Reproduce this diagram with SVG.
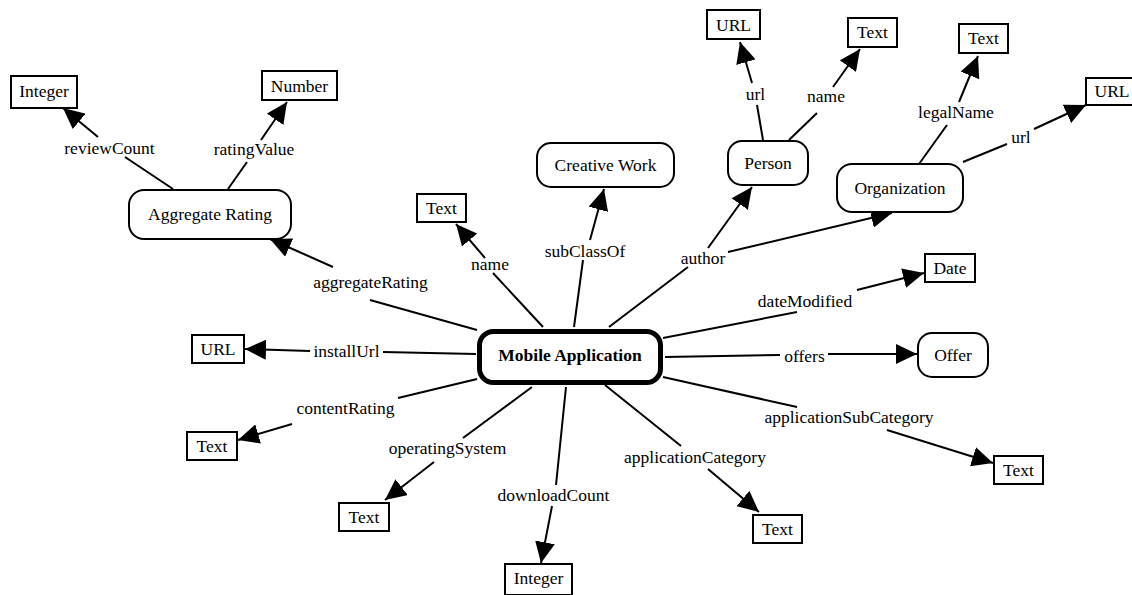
<svg xmlns="http://www.w3.org/2000/svg" width="1132" height="595" viewBox="0 0 1132 595">
<style>
.box { fill: #fff; stroke: #000; stroke-width: 2; }
.cls { fill: #fff; stroke: #000; stroke-width: 2; }
.main { fill: #fff; stroke: #000; stroke-width: 5; }
.e { fill: none; stroke: #000; stroke-width: 2; }
.a { marker-end: url(#ah); }
</style>
<defs>
<marker id="ah" markerUnits="userSpaceOnUse" viewBox="0 0 21 20" refX="21" refY="10" markerWidth="21" markerHeight="20" orient="auto">
<path d="M0,0 L21,10 L0,20 z" fill="#000"/>
</marker>
</defs>
<rect width="1132" height="595" fill="#fff"/>
<g id="connectors" text-anchor="middle">
<path class="e a" d="M173,189 L125,157 M98,137 L63,108"/>
<path class="e a" d="M228,189 L247,162 M261,140 L287,102"/>
<path class="e a" d="M477,330 L370,300 M333,267 L270,239"/>
<path class="e a" d="M543,327 L493,273 M485,258 L456,224"/>
<path class="e a" d="M574,327 L583,260 M590,240 L604,189"/>
<path class="e a" d="M609,327 L688,267 M708,248 L752,187"/>
<path class="e a" d="M728,252 L892,213"/>
<path class="e a" d="M763,140 L757,105 M752,83 L740,42"/>
<path class="e a" d="M789,140 L817,113 M833,87 L860,49"/>
<path class="e a" d="M919,164 L947,125 M959,102 L978,56"/>
<path class="e a" d="M963,162 L1007,144 M1034,129 L1086,105"/>
<path class="e a" d="M663,338 L797,312 M857,290 L924,273"/>
<path class="e a" d="M665,357 L780,355 M828,354 L917,354"/>
<path class="e a" d="M663,377 L797,407 M887,430 L993,463"/>
<path class="e a" d="M605,385 L681,446 M708,469 L759,512"/>
<path class="e a" d="M566,387 L556,485 M552,506 L541,563"/>
<path class="e a" d="M532,387 L463,438 M434,462 L385,500"/>
<path class="e a" d="M477,379 L398,398 M292,424 L238,440"/>
<path class="e a" d="M476,354 L383,352 M310,351 L245,349"/>
<text font-family="Liberation Serif" font-size="17.5" x="109.5" y="154">reviewCount</text>
<text font-family="Liberation Serif" font-size="17.5" x="254" y="155">ratingValue</text>
<text font-family="Liberation Serif" font-size="17.5" x="370.5" y="288">aggregateRating</text>
<text font-family="Liberation Serif" font-size="17.5" x="490" y="270">name</text>
<text font-family="Liberation Serif" font-size="17.5" x="585" y="257">subClassOf</text>
<text font-family="Liberation Serif" font-size="17.5" x="703" y="264">author</text>
<text font-family="Liberation Serif" font-size="17.5" x="755.5" y="100">url</text>
<text font-family="Liberation Serif" font-size="17.5" x="826" y="102">name</text>
<text font-family="Liberation Serif" font-size="17.5" x="956" y="118">legalName</text>
<text font-family="Liberation Serif" font-size="17.5" x="1021" y="143">url</text>
<text font-family="Liberation Serif" font-size="17.5" x="805" y="307">dateModified</text>
<text font-family="Liberation Serif" font-size="17.5" x="804.5" y="362">offers</text>
<text font-family="Liberation Serif" font-size="17.5" x="849" y="423">applicationSubCategory</text>
<text font-family="Liberation Serif" font-size="17.5" x="695" y="463">applicationCategory</text>
<text font-family="Liberation Serif" font-size="17.5" x="553.5" y="501">downloadCount</text>
<text font-family="Liberation Serif" font-size="17.5" x="447.5" y="454">operatingSystem</text>
<text font-family="Liberation Serif" font-size="17.5" x="345.5" y="414">contentRating</text>
<text font-family="Liberation Serif" font-size="17.5" x="346.5" y="357">installUrl</text>
</g>
<g id="nodes" text-anchor="middle">
<g id="n_main"><rect class="main" x="479.5" y="331.5" width="181" height="51" rx="14"/><text font-family="Liberation Serif" font-size="17.5" font-weight="bold" x="570" y="361">Mobile Application</text></g>
<g id="n_agg"><rect class="cls" x="129" y="190" width="162" height="49" rx="15"/><text font-family="Liberation Serif" font-size="17.5" x="210" y="220">Aggregate Rating</text></g>
<g id="n_int1"><rect class="box" x="11" y="76" width="66" height="32"/><text font-family="Liberation Serif" font-size="17.5" x="44" y="97">Integer</text></g>
<g id="n_num"><rect class="box" x="262" y="71" width="75" height="29"/><text font-family="Liberation Serif" font-size="17.5" x="299.5" y="92">Number</text></g>
<g id="n_text_name"><rect class="box" x="417" y="194" width="49" height="28"/><text font-family="Liberation Serif" font-size="17.5" x="441.5" y="214">Text</text></g>
<g id="n_cw"><rect class="cls" x="537" y="143" width="137" height="44" rx="14"/><text font-family="Liberation Serif" font-size="17.5" x="605.5" y="171">Creative Work</text></g>
<g id="n_person"><rect class="cls" x="728" y="141" width="80" height="44" rx="14"/><text font-family="Liberation Serif" font-size="17.5" x="768" y="169">Person</text></g>
<g id="n_url1"><rect class="box" x="707" y="10" width="53" height="29"/><text font-family="Liberation Serif" font-size="17.5" x="733.5" y="31">URL</text></g>
<g id="n_text_pn"><rect class="box" x="848" y="18" width="49" height="29"/><text font-family="Liberation Serif" font-size="17.5" x="872.5" y="38">Text</text></g>
<g id="n_text_ln"><rect class="box" x="959" y="24" width="49" height="29"/><text font-family="Liberation Serif" font-size="17.5" x="983.5" y="44">Text</text></g>
<g id="n_url2"><rect class="box" x="1086" y="78" width="53" height="27"/><text font-family="Liberation Serif" font-size="17.5" x="1112" y="97">URL</text></g>
<g id="n_org"><rect class="cls" x="837" y="164" width="126" height="48" rx="15"/><text font-family="Liberation Serif" font-size="17.5" x="900" y="194">Organization</text></g>
<g id="n_date"><rect class="box" x="925" y="254" width="50" height="28"/><text font-family="Liberation Serif" font-size="17.5" x="950" y="274">Date</text></g>
<g id="n_offer"><rect class="cls" x="918" y="333" width="70" height="44" rx="14"/><text font-family="Liberation Serif" font-size="17.5" x="953" y="361">Offer</text></g>
<g id="n_text_sub"><rect class="box" x="994" y="456" width="49" height="28"/><text font-family="Liberation Serif" font-size="17.5" x="1018.5" y="476">Text</text></g>
<g id="n_text_cat"><rect class="box" x="753" y="515" width="49" height="28"/><text font-family="Liberation Serif" font-size="17.5" x="777.5" y="535">Text</text></g>
<g id="n_int2"><rect class="box" x="505" y="564" width="67" height="31"/><text font-family="Liberation Serif" font-size="17.5" x="538.5" y="584">Integer</text></g>
<g id="n_text_os"><rect class="box" x="339" y="503" width="50" height="28"/><text font-family="Liberation Serif" font-size="17.5" x="364" y="523">Text</text></g>
<g id="n_text_cr"><rect class="box" x="187" y="432" width="50" height="28"/><text font-family="Liberation Serif" font-size="17.5" x="212" y="452">Text</text></g>
<g id="n_url3"><rect class="box" x="192" y="335" width="52" height="28"/><text font-family="Liberation Serif" font-size="17.5" x="218" y="355">URL</text></g>
</g>
</svg>
